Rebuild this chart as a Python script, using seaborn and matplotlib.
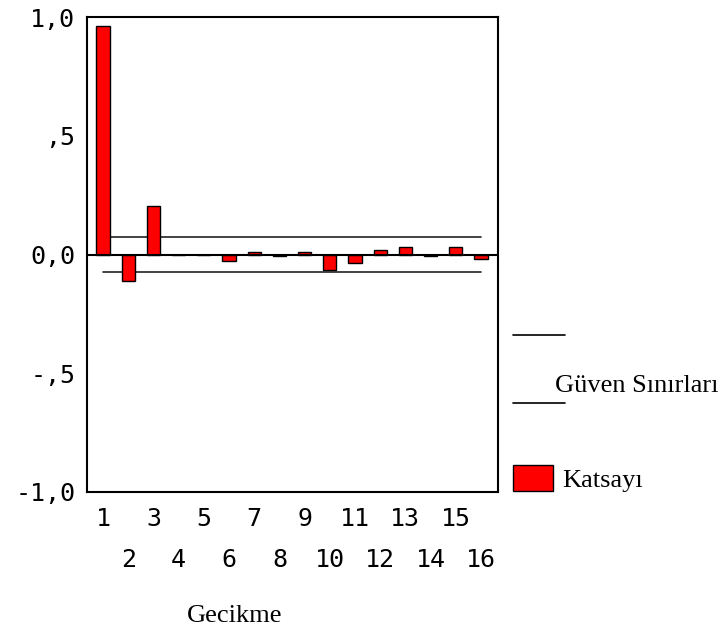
import numpy as np
import pandas as pd
import matplotlib
matplotlib.use("Agg")
import matplotlib.pyplot as plt
import seaborn as sns
from matplotlib.lines import Line2D
from matplotlib.patches import Rectangle


# ==================================
# DATA
# ==================================

lags = list(range(1, 17))
acf_values = [0.962, -0.11, 0.205, 0.0, 0.0, -0.026, 0.01, -0.008,
              0.01, -0.064, -0.034, 0.017, 0.03, -0.008, 0.03, -0.017]
conf_limit = 0.072
y_ticks = [-1.0, -0.5, 0.0, 0.5, 1.0]
y_tick_labels = ["-1,0", "-,5", "0,0", ",5", "1,0"]


# ==================================
# PLOT
# ==================================

sns.set_style("white")
plt.rcParams["font.family"] = ["DejaVu Sans Mono", "DejaVu Sans"]
plt.rcParams["text.color"] = "black"

W, H = 723, 632
fig = plt.figure(figsize=(7.23, 6.32), dpi=100)
ax = fig.add_axes([87 / W, 1 - 492 / H, (498 - 87) / W, (492 - 17) / H])

df = pd.DataFrame({"lag": lags, "acf": acf_values})

ax.bar(
    df["lag"],
    df["acf"],
    width=0.52,
    color="#ff0000",
    edgecolor="black",
    linewidth=1.0,
    zorder=3
)

# confidence limits
ax.plot([lags[0], lags[-1]], [conf_limit, conf_limit], color="#222222", linewidth=1.2, zorder=2)
ax.plot([lags[0], lags[-1]], [-conf_limit, -conf_limit], color="#222222", linewidth=1.2, zorder=2)

ax.axhline(0, color="black", linewidth=1.5, zorder=4)

ax.set_xlim(0.365, 16.675)
ax.set_ylim(-1.0, 1.0)

for s in ax.spines.values():
    s.set_color("black")
    s.set_linewidth(1.5)

ax.set_yticks(y_ticks)
ax.set_yticklabels(y_tick_labels)
ax.tick_params(axis="y", direction="inout", length=5, width=4,
               labelsize=18, pad=6, color="black", labelcolor="black")

# odd lags on the first row, even lags on the second row
odd_lags = [l for l in lags if l % 2 == 1]
even_lags = [l for l in lags if l % 2 == 0]
ax.set_xticks(odd_lags)
ax.set_xticklabels([str(l) for l in odd_lags])
ax.set_xticks(even_lags, minor=True)
ax.set_xticklabels([str(l) for l in even_lags], minor=True)
ax.tick_params(axis="x", which="major", direction="out", length=4, width=4,
               labelsize=18, pad=7, color="black", labelcolor="black")
ax.tick_params(axis="x", which="minor", direction="out", length=4, width=4,
               labelsize=18, pad=36, color="black", labelcolor="black")

fig.text(235 / W, 1 - 622 / H, "Gecikme", fontsize=19, family="Liberation Serif",
         ha="center", va="baseline", color="black")

# legend, drawn by hand
fig.add_artist(Line2D([513 / W, 565 / W], [1 - 335 / H, 1 - 335 / H],
                      color="black", linewidth=1.2))
fig.add_artist(Line2D([513 / W, 565 / W], [1 - 403 / H, 1 - 403 / H],
                      color="black", linewidth=1.2))
fig.text(555 / W, 1 - 392 / H, "Güven Sınırları", fontsize=19,
         family="Liberation Serif", ha="left", va="baseline", color="black")
fig.add_artist(Rectangle((513 / W, 1 - 491 / H), 40 / W, 26 / H,
                         facecolor="#ff0000", edgecolor="black", linewidth=1.0))
fig.text(562 / W, 1 - 487 / H, "Katsayı", fontsize=19,
         family="Liberation Serif", ha="left", va="baseline", color="black")

fig.savefig("out.png", dpi=100)
